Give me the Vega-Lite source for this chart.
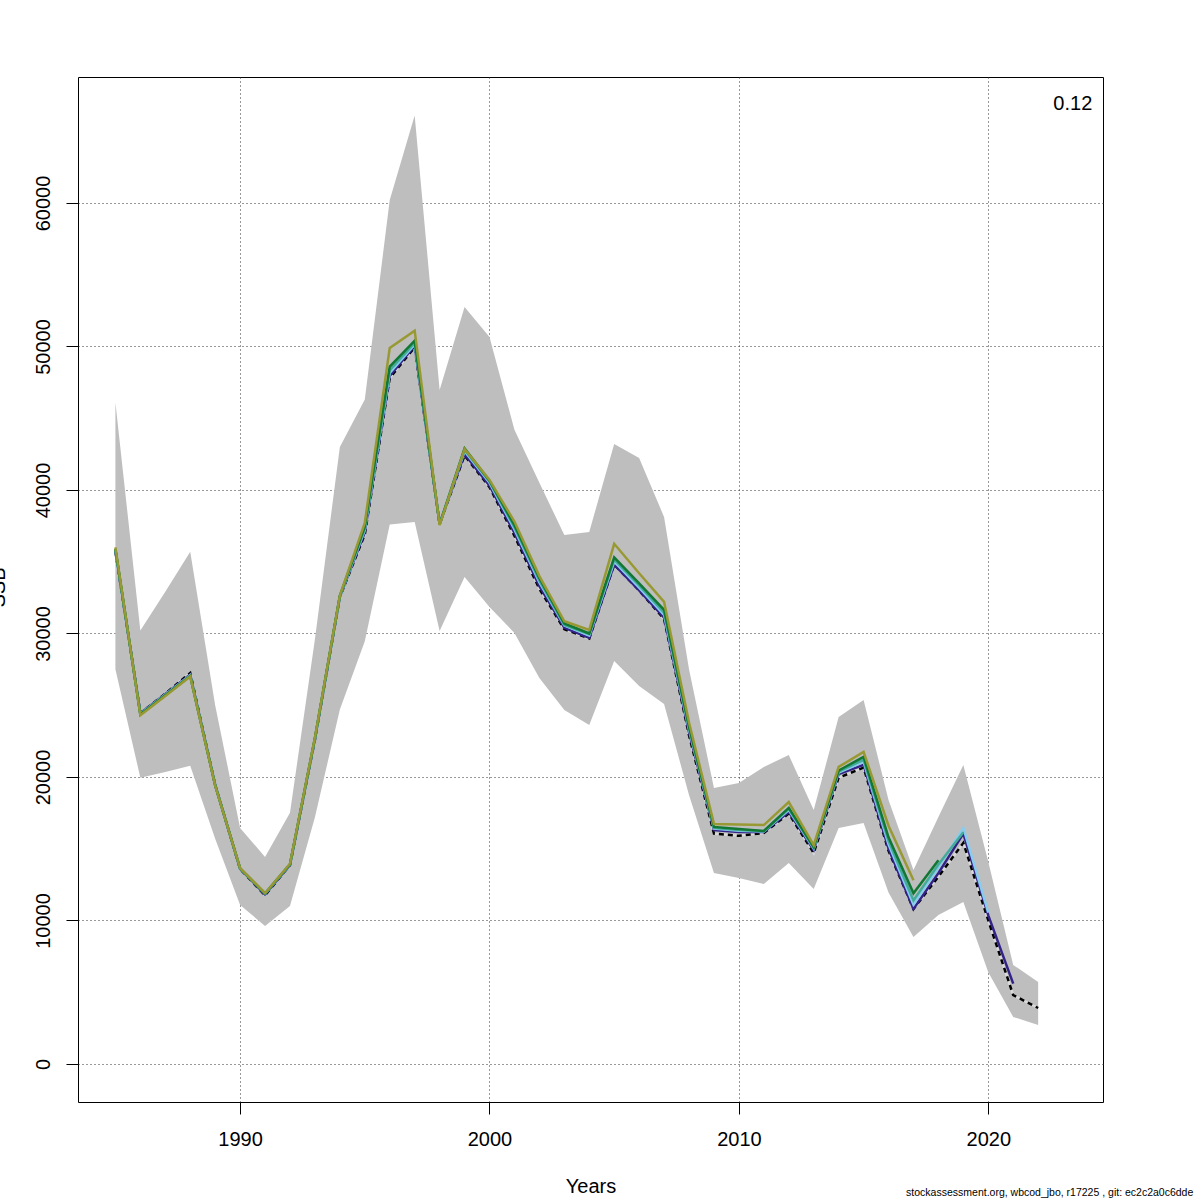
{
  "$schema": "https://vega.github.io/schema/vega-lite/v6.json",
  "width": 1025,
  "height": 1025,
  "autosize": "none",
  "padding": {"left": 78, "top": 77, "right": 97, "bottom": 98},
  "background": "white",
  "config": {
    "font": "Liberation Sans",
    "view": {"stroke": "black", "strokeWidth": 1},
    "axis": {
      "domain": false,
      "grid": true,
      "gridColor": "#333333",
      "gridDash": [1, 3],
      "gridWidth": 1,
      "tickColor": "black",
      "tickSize": 12,
      "labelColor": "black",
      "labelFontSize": 20,
      "titleColor": "black",
      "titleFontSize": 20,
      "titleFontWeight": "normal",
      "zindex": 1
    }
  },
  "datasets": {
    "notes": [
      {"year": 2024.17, "ssb": 66900, "label": "0.12", "kind": "run"},
      {"year": 2028.22, "ssb": -9200, "label": "stockassessment.org, wbcod_jbo, r17225 , git: ec2c2a0c6dde", "kind": "footer"}
    ]
  },
  "data": {
    "values": [
      {"year": 1985, "lo": 27500, "hi": 46100, "b": 35700, "p1": 35800, "p2": 35800, "p3": 35850, "p4": 35900, "p5": 36000},
      {"year": 1986, "lo": 19950, "hi": 30200, "b": 24450, "p1": 24450, "p2": 24400, "p3": 24380, "p4": 24350, "p5": 24300},
      {"year": 1987, "lo": 20350, "hi": 32900, "b": 25800, "p1": 25780, "p2": 25750, "p3": 25720, "p4": 25700, "p5": 25650},
      {"year": 1988, "lo": 20780, "hi": 35700, "b": 27250, "p1": 27150, "p2": 27100, "p3": 27060, "p4": 27030, "p5": 27000},
      {"year": 1989, "lo": 15700, "hi": 25000, "b": 19450, "p1": 19450, "p2": 19450, "p3": 19430, "p4": 19420, "p5": 19400},
      {"year": 1990, "lo": 11080, "hi": 16450, "b": 13580, "p1": 13600, "p2": 13600, "p3": 13620, "p4": 13630, "p5": 13650},
      {"year": 1991, "lo": 9620, "hi": 14430, "b": 11750, "p1": 11800, "p2": 11850, "p3": 11870, "p4": 11880, "p5": 11900},
      {"year": 1992, "lo": 11010, "hi": 17500, "b": 13870, "p1": 13870, "p2": 13900, "p3": 13910, "p4": 13920, "p5": 13950},
      {"year": 1993, "lo": 17200, "hi": 29600, "b": 22600, "p1": 22650, "p2": 22650, "p3": 22680, "p4": 22700, "p5": 22750},
      {"year": 1994, "lo": 24700, "hi": 43000, "b": 32540, "p1": 32560, "p2": 32580, "p3": 32600, "p4": 32620, "p5": 32650},
      {"year": 1995, "lo": 29450, "hi": 46300, "b": 36900, "p1": 37050, "p2": 37200, "p3": 37300, "p4": 37450, "p5": 37700},
      {"year": 1996, "lo": 37600, "hi": 60200, "b": 47800, "p1": 47950, "p2": 48150, "p3": 48350, "p4": 48600, "p5": 49900},
      {"year": 1997, "lo": 37770, "hi": 66100, "b": 49950, "p1": 50050, "p2": 50150, "p3": 50250, "p4": 50400, "p5": 51100},
      {"year": 1998, "lo": 30180, "hi": 46970, "b": 37650, "p1": 37650, "p2": 37650, "p3": 37630, "p4": 37600, "p5": 37550},
      {"year": 1999, "lo": 33940, "hi": 52760, "b": 42400, "p1": 42500, "p2": 42700, "p3": 42800, "p4": 42900, "p5": 42850},
      {"year": 2000, "lo": 31850, "hi": 50660, "b": 40200, "p1": 40300, "p2": 40500, "p3": 40600, "p4": 40650, "p5": 40700},
      {"year": 2001, "lo": 30040, "hi": 44200, "b": 36800, "p1": 37000, "p2": 37250, "p3": 37400, "p4": 37550, "p5": 37800},
      {"year": 2002, "lo": 26900, "hi": 40500, "b": 33100, "p1": 33300, "p2": 33550, "p3": 33700, "p4": 33850, "p5": 34000},
      {"year": 2003, "lo": 24670, "hi": 36870, "b": 30300, "p1": 30400, "p2": 30550, "p3": 30600, "p4": 30700, "p5": 30850},
      {"year": 2004, "lo": 23620, "hi": 37080, "b": 29650, "p1": 29700, "p2": 29850, "p3": 29950, "p4": 30000, "p5": 30250},
      {"year": 2005, "lo": 28090, "hi": 43210, "b": 34800, "p1": 34800, "p2": 35000, "p3": 35150, "p4": 35300, "p5": 36250},
      {"year": 2006, "lo": 26340, "hi": 42230, "b": 33000, "p1": 33000, "p2": 33200, "p3": 33350, "p4": 33500, "p5": 34200},
      {"year": 2007, "lo": 25090, "hi": 38120, "b": 31000, "p1": 31100, "p2": 31300, "p3": 31450, "p4": 31650, "p5": 32200},
      {"year": 2008, "lo": 18750, "hi": 27500, "b": 22900, "p1": 23100, "p2": 23300, "p3": 23400, "p4": 23500, "p5": 23800},
      {"year": 2009, "lo": 13310, "hi": 19230, "b": 16050, "p1": 16300, "p2": 16400, "p3": 16450, "p4": 16520, "p5": 16730},
      {"year": 2010, "lo": 12960, "hi": 19580, "b": 15900, "p1": 16170, "p2": 16250, "p3": 16300, "p4": 16380, "p5": 16680},
      {"year": 2011, "lo": 12540, "hi": 20700, "b": 16100, "p1": 16170, "p2": 16200, "p3": 16220, "p4": 16240, "p5": 16650},
      {"year": 2012, "lo": 14010, "hi": 21530, "b": 17450, "p1": 17560, "p2": 17700, "p3": 17780, "p4": 17850, "p5": 18250},
      {"year": 2013, "lo": 12200, "hi": 17700, "b": 14700, "p1": 14900, "p2": 15000, "p3": 15060, "p4": 15120, "p5": 15250},
      {"year": 2014, "lo": 16450, "hi": 24180, "b": 19950, "p1": 20200, "p2": 20300, "p3": 20380, "p4": 20450, "p5": 20700},
      {"year": 2015, "lo": 16800, "hi": 25370, "b": 20650, "p1": 20850, "p2": 21050, "p3": 21200, "p4": 21400, "p5": 21750},
      {"year": 2016, "lo": 11950, "hi": 18400, "b": 14850, "p1": 15000, "p2": 15300, "p3": 15550, "p4": 15800, "p5": 16600},
      {"year": 2017, "lo": 8850, "hi": 13520, "b": 10800, "p1": 10800, "p2": 11100, "p3": 11400, "p4": 11900, "p5": 12800},
      {"year": 2018, "lo": 10380, "hi": 17210, "b": 13050, "p1": 13300, "p2": 13700, "p3": 13900, "p4": 14200, "p5": null},
      {"year": 2019, "lo": 11290, "hi": 20840, "b": 15400, "p1": 16050, "p2": 16450, "p3": 16150, "p4": null, "p5": null},
      {"year": 2020, "lo": 6400, "hi": 14100, "b": 10000, "p1": 10350, "p2": 10550, "p3": null, "p4": null, "p5": null},
      {"year": 2021, "lo": 3280, "hi": 6900, "b": 4800, "p1": 5600, "p2": null, "p3": null, "p4": null, "p5": null},
      {"year": 2022, "lo": 2720, "hi": 5710, "b": 3900, "p1": null, "p2": null, "p3": null, "p4": null, "p5": null}
    ]
  },
  "encoding": {
    "x": {
      "field": "year",
      "type": "quantitative",
      "scale": {"domain": [1983.5, 2024.6], "nice": false, "zero": false},
      "axis": {
        "values": [1990, 2000, 2010, 2020],
        "format": "d",
        "labelPadding": 15,
        "title": "Years",
        "titlePadding": 27
      }
    }
  },
  "layer": [
    {
      "mark": {"type": "area", "color": "#bebebe", "opacity": 1},
      "encoding": {
        "y": {
          "field": "lo",
          "type": "quantitative",
          "scale": {"domain": [-2650, 68780], "nice": false, "zero": false},
          "axis": {
            "values": [0, 10000, 20000, 30000, 40000, 50000, 60000],
            "format": "d",
            "labelAngle": 270,
            "labelAlign": "center",
            "labelBaseline": "bottom",
            "labelPadding": 13,
            "title": "SSB",
            "titleAngle": 270,
            "titleX": -74,
            "titleY": 510,
            "titleAlign": "center",
            "titleBaseline": "alphabetic"
          }
        },
        "y2": {"field": "hi"}
      }
    },
    {
      "mark": {"type": "line", "strokeWidth": 2.5, "color": "#d9d9d9"},
      "encoding": {"y": {"field": "b", "type": "quantitative"}}
    },
    {
      "mark": {"type": "line", "strokeWidth": 2.5, "color": "black", "strokeDash": [5, 4]},
      "encoding": {"y": {"field": "b", "type": "quantitative"}}
    },
    {
      "transform": [
        {"fold": ["p1", "p2", "p3", "p4", "p5"], "as": ["run", "ssb"]},
        {"filter": "datum.ssb != null"}
      ],
      "mark": {"type": "line", "strokeWidth": 2.5},
      "encoding": {
        "y": {"field": "ssb", "type": "quantitative"},
        "color": {
          "field": "run",
          "type": "nominal",
          "scale": {
            "domain": ["p1", "p2", "p3", "p4", "p5"],
            "range": ["#332288", "#88CCEE", "#44AA99", "#117733", "#999933"]
          },
          "legend": null
        }
      }
    },
    {
      "data": {"name": "notes"},
      "transform": [{"filter": "datum.kind == 'run'"}],
      "mark": {"type": "text", "align": "right", "baseline": "middle", "fontSize": 20, "color": "black"},
      "encoding": {
        "y": {"field": "ssb", "type": "quantitative"},
        "text": {"field": "label"}
      }
    },
    {
      "data": {"name": "notes"},
      "transform": [{"filter": "datum.kind == 'footer'"}],
      "mark": {"type": "text", "align": "right", "baseline": "alphabetic", "fontSize": 10.5, "color": "black"},
      "encoding": {
        "y": {"field": "ssb", "type": "quantitative"},
        "text": {"field": "label"}
      }
    }
  ]
}
